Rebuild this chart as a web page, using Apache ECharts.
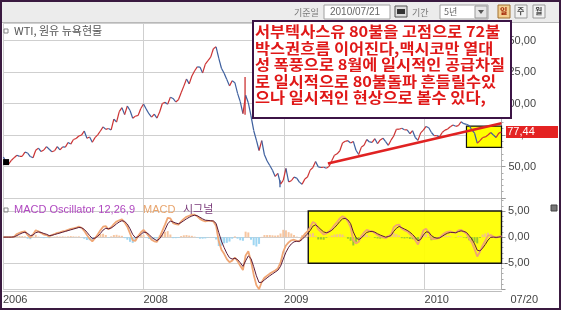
<!DOCTYPE html>
<html><head><meta charset="utf-8">
<script src="https://cdn.jsdelivr.net/npm/echarts@6/dist/echarts.min.js"></script>
<style>html,body{margin:0;padding:0;background:#fff}#c{width:565px;height:313px}</style>
</head><body><div id="c"></div>
<script>
// ---------- data (weekly, Tuesdays from 2007-01-02 to 2010-07-20) ----------
const firstWeek = '2007-01-02';
const closes = [
 57.5, 53.5, 52.0, 55.0, 57.0, 58.9, 58.0, 58.1, 61.4, 60.7,
 57.9, 57.0, 62.9, 64.6, 61.9, 63.1, 65.8, 63.7, 61.7, 62.5,
 65.8, 63.2, 65.6, 65.4, 69.1, 67.8, 71.4, 72.2, 74.2, 74.9,
 78.2, 72.4, 73.4, 69.3, 72.9, 75.1, 78.2, 81.5, 79.5, 80.2,
 79.0, 87.6, 85.3, 93.5, 96.7, 91.2, 98.0, 94.4, 88.3, 90.0,
 90.5, 96.0, 99.6, 95.7, 91.9, 89.2, 91.6, 88.4, 93.3, 100.0,
 100.9, 99.5, 105.0, 104.0, 101.2, 103.0, 108.5, 113.8, 119.4, 115.6,
 121.8, 125.8, 129.1, 128.9, 124.3, 131.3, 134.0, 136.8, 143.5, 145.0,
 136.0, 128.0, 124.0, 119.0, 114.0, 118.0, 116.5, 108.0, 101.5, 92.0,
 106.5, 100.6, 90.1, 78.6, 70.9, 62.7, 70.5, 59.3, 54.4, 50.8,
 47.0, 42.1, 44.5, 36.0, 39.0, 48.6, 37.8, 38.7, 41.6, 40.8,
 37.6, 35.9, 40.0, 41.6, 47.1, 49.2, 53.9, 49.7, 49.2, 49.4,
 48.6, 50.1, 54.5, 58.9, 60.1, 62.5, 68.6, 70.0, 70.5, 68.7,
 69.9, 62.9, 59.5, 65.4, 66.9, 71.4, 69.5, 69.2, 72.1, 68.1,
 71.1, 72.5, 69.7, 66.8, 70.9, 74.2, 79.6, 79.6, 80.4, 79.1,
 79.1, 76.0, 78.4, 73.0, 70.7, 76.7, 78.9, 81.8, 80.8, 77.0,
 74.5, 74.5, 73.5, 77.0, 78.9, 79.7, 81.5, 82.9, 81.9, 82.4,
 85.5, 84.0, 83.5, 82.5, 79.0, 76.4, 68.5, 70.5, 73.0, 73.5,
 75.0, 77.0, 75.0, 73.0, 76.5, 77.44
];
// weeks with a long intraweek wick: [week index, low, high]
const wicks = [[90, 91, 121], [103, 33.5, 39]];
const macd = [
 0, 0, 0, 0, 0.1, 0.6, 0.8, 1.0, 1.1, 0.4,
 -0.1, 0.5, 1.3, 1.1, 0.8, 0.5, 0.4, 0.1, 0.4, 0.6,
 0.8, 0.9, 1.1, 1.2, 1.4, 1.6, 1.7, 1.8, 2.0, 1.8,
 1.2, 0.4, -0.3, -0.8, -0.2, 0.5, 1.3, 2.0, 2.1, 1.5,
 1.9, 2.5, 3.0, 3.2, 3.4, 2.8, 2.0, 0.7, -0.6, -0.7,
 0.2, 0.9, 1.4, 0.8, 0.2, -0.5, -0.8, -0.9, 0.0, 1.2,
 2.4, 3.7, 3.6, 2.7, 2.5, 2.4, 3.0, 3.5, 3.9, 4.1,
 4.3, 4.3, 4.0, 3.5, 3.2, 3.0, 3.1, 3.1, 3.0, 2.2,
 -0.8, -2.4, -3.2, -4.2, -4.8, -4.5, -3.9, -4.6, -5.5, -6.3,
 -3.5, -2.7, -4.6, -7.2, -9.2, -10.0, -8.6, -7.8, -7.4, -7.0,
 -6.7, -6.4, -6.0, -4.9, -2.8, -1.6, -1.0, -0.6, -0.5, -0.7,
 -0.8, -0.1, 0.6, 1.1, 1.9, 2.9, 2.6, 1.5, 1.0, 0.5,
 0.7, 1.1, 1.6, 2.3, 2.9, 3.6, 4.0, 3.7, 3.0, 1.9,
 -0.6, -1.2, -0.9, 0.2, 0.9, 1.4, 1.2, 1.1, 0.8, 0.4,
 0.1, 0.0, -0.2, 0.2, 0.5, 1.9, 2.3, 2.4, 1.6, 1.3,
 1.1, 0.6, 0.1, -0.6, -1.4, -0.2, 1.3, 1.6, 0.9, -0.3,
 -0.4, -0.3, -0.1, 0.4, 0.8, 1.0, 1.1, 0.9, 0.8, 1.3,
 1.4, 1.0, 0.7, -0.3, -1.0, -2.3, -3.7, -2.8, -1.6, -0.7,
 0.3, 0.4, 0.1, -0.1, 0.1, 0.2
];
const signal = [
 0, 0, 0, 0, 0.05, 0.3, 0.55, 0.8, 0.95, 0.7,
 0.3, 0.4, 0.85, 1.0, 0.9, 0.7, 0.55, 0.3, 0.35, 0.5,
 0.65, 0.8, 0.95, 1.1, 1.25, 1.4, 1.55, 1.7, 1.85, 1.8,
 1.5, 0.95, 0.3, -0.25, -0.2, 0.15, 0.7, 1.35, 1.7, 1.6,
 1.75, 2.1, 2.55, 2.9, 3.15, 3.0, 2.5, 1.6, 0.5, -0.1,
 0.05, 0.5, 0.95, 0.9, 0.55, 0.0, -0.4, -0.65, -0.3, 0.45,
 1.4, 2.55, 3.1, 2.9, 2.7, 2.55, 2.8, 3.15, 3.5, 3.8,
 4.05, 4.2, 4.1, 3.8, 3.5, 3.25, 3.2, 3.15, 3.1, 2.65,
 0.9, -0.75, -2.0, -3.1, -3.95, -4.2, -4.05, -4.3, -4.9, -5.6,
 -4.55, -3.6, -4.1, -5.65, -7.4, -8.7, -8.65, -8.2, -7.8, -7.4,
 -7.05, -6.7, -6.35, -5.6, -4.2, -2.9, -1.95, -1.3, -0.9, -0.8,
 -0.8, -0.45, 0.1, 0.6, 1.25, 2.1, 2.35, 1.95, 1.45, 1.0,
 0.85, 1.0, 1.3, 1.8, 2.35, 3.0, 3.5, 3.6, 3.3, 2.6,
 1.0, -0.1, -0.5, -0.15, 0.4, 0.9, 1.05, 1.1, 0.95, 0.65,
 0.4, 0.2, 0.0, 0.1, 0.3, 1.1, 1.7, 2.05, 1.8, 1.55,
 1.3, 0.95, 0.5, -0.05, -0.7, -0.45, 0.4, 1.0, 0.95, 0.3,
 -0.05, -0.2, -0.15, 0.15, 0.5, 0.75, 0.9, 0.9, 0.85, 1.05,
 1.2, 1.1, 0.9, 0.3, -0.35, -1.3, -2.5, -2.65, -2.1, -1.4,
 -0.55, -0.05, 0.0, -0.05, 0.0, 0.1
];
const xTickLabels = [['2007-01-01', '2006'], ['2008-01-01', '2008'], ['2009-01-01', '2009'], ['2010-01-01', '2010'], ['2010-07-20', '07/20']];
const lastDate = '2010-07-20';
const lastPriceLabel = '77,44';
const trendLine = [['2009-04-25', 52.4], ['2010-07-20', 84.3]];
const priceBox = [['2010-04-20', 82.0], ['2010-07-20', 65.2]];
const macdBox = [['2009-03-05', 5], ['2010-07-20', -5]];
const noteLines = [
 '서부텍사스유 80불을 고점으로 72불',
 '박스권흐름 이어진다,맥시코만 열대',
 '성 폭풍으로 8월에 일시적인 공급차질',
 '로 일시적으로 80불돌파 흔들릴수있',
 '으나 일시적인 현상으로 볼수 있다,'
];

// ---------- helpers ----------
const DAY = 86400000;
function yearFrac(ms) {
  const d = new Date(ms), y = d.getUTCFullYear();
  const a = Date.UTC(y, 0, 1), b = Date.UTC(y + 1, 0, 1);
  return y + (ms - a) / (b - a);
}
function dateYear(s) { return yearFrac(Date.parse(s + 'T00:00:00Z')); }
const t0 = Date.parse(firstWeek + 'T00:00:00Z');
const weekT = closes.map((_, i) => yearFrac(t0 + i * 7 * DAY));
const xMin = Math.floor(weekT[0]);
const xMax = dateYear(lastDate);
const lastPrice = closes[closes.length - 1];
const boxStart = dateYear(macdBox[0][0]);
const wickMap = {}; wicks.forEach(w => wickMap[w[0]] = w);

const UP = '#cc3333', DOWN = '#3d5f9e';
const LATIN = 'Liberation Sans, Arial, sans-serif';
const LBL = { fontFamily: LATIN, fontSize: 11, color: '#444' };
const KR = 'Noto Sans CJK KR, sans-serif';

function xLabel(v) {
  let best = null, bd = 1e9;
  xTickLabels.forEach(p => { const d = Math.abs(dateYear(p[0]) - v); if (d < bd) { bd = d; best = p; } });
  if (!best || bd > 0.02) return '';
  return best[0] === lastDate ? '{e|' + best[1] + '}' : best[1];
}

const chart = echarts.init(document.getElementById('c'));
const option = {
  animation: false,
  backgroundColor: '#fff',
  grid: [
    { left: 3, right: 63.5, top: 23, height: 175 },
    { left: 3, right: 63.5, top: 198, height: 91.3 }
  ],
  xAxis: [
    { type: 'value', gridIndex: 0, min: xMin, max: xMax, interval: 1,
      axisLine: { show: false }, axisTick: { show: false }, axisLabel: { show: false },
      splitLine: { show: true, lineStyle: { color: '#cfcfcf', width: 1 } } },
    { type: 'value', gridIndex: 1, min: xMin, max: xMax, interval: 1,
      axisLine: { show: true, onZero: false, lineStyle: { color: '#bdbdbd' } }, offset: 2,
      axisTick: { show: false },
      axisLabel: Object.assign({}, LBL, { show: true, margin: 3, align: 'left', showMaxLabel: true, showMinLabel: true,
        formatter: xLabel, rich: { e: Object.assign({}, LBL, { padding: [0, 0, 0, 9] }) } }),
      splitLine: { show: true, lineStyle: { color: '#cfcfcf', width: 1 } } }
  ],
  yAxis: [
    { type: 'value', gridIndex: 0, position: 'right', min: 25, max: 163.9, interval: 25,
      axisLine: { show: true, lineStyle: { color: '#b0b0b0' } },
      axisTick: { show: true, length: 4, lineStyle: { color: '#999' } },
      minorTick: { show: true, splitNumber: 5, length: 2, lineStyle: { color: '#aaa' } },
      axisLabel: Object.assign({}, LBL, { margin: 7, showMinLabel: false, showMaxLabel: false,
        formatter: v => ((v % 100).toFixed(2).replace('.', ',')).padStart(5, '0') }),
      splitLine: { show: true, lineStyle: { color: '#cfcfcf' } } },
    { type: 'value', gridIndex: 1, position: 'right', min: -10, max: 7.5, interval: 5,
      axisLine: { show: true, lineStyle: { color: '#b0b0b0' } },
      axisTick: { show: true, length: 4, lineStyle: { color: '#999' } },
      minorTick: { show: true, splitNumber: 5, length: 2, lineStyle: { color: '#aaa' } },
      axisLabel: Object.assign({}, LBL, { margin: 28, align: 'right', showMinLabel: false, showMaxLabel: false,
        formatter: v => v.toFixed(2).replace('.', ',') }),
      splitLine: { show: true, lineStyle: { color: '#cfcfcf' } } }
  ],
  series: [
    // host for markers on the price panel
    { type: 'line', xAxisIndex: 0, yAxisIndex: 0, z: 1, clip: false, silent: true, showSymbol: false,
      lineStyle: { opacity: 0 }, data: closes.map((c, i) => [weekT[i], c]),
      markArea: { silent: true, itemStyle: { color: '#ffff00', borderColor: '#111', borderWidth: 1.2 },
        data: [[{ coord: [dateYear(priceBox[0][0]), priceBox[0][1]] }, { coord: [dateYear(priceBox[1][0]), priceBox[1][1]] }]] },
      markLine: { silent: true, symbol: ['none', 'none'], animation: false,
        data: [
          [{ coord: [dateYear(trendLine[0][0]), trendLine[0][1]], lineStyle: { color: '#e02222', width: 2.5, type: 'solid' }, label: { show: false } },
           { coord: [dateYear(trendLine[1][0]), trendLine[1][1]] }]
        ] },
      markPoint: { silent: true, label: { show: false },
        data: [
          { coord: [weekT[1], closes[1]], symbol: 'rect', symbolSize: 6, itemStyle: { color: '#000' } },
          { coord: [xMax, lastPrice], symbol: 'rect', symbolSize: [52, 12], symbolOffset: [30.5, 0],
            itemStyle: { color: '#e42222' },
            label: { show: true, position: 'inside', offset: [-11, 0], formatter: lastPriceLabel,
              color: '#fff', fontFamily: LATIN, fontSize: 11 } }
        ] }
    },
    // price path, red when rising, blue when falling
    { type: 'custom', xAxisIndex: 0, yAxisIndex: 0, z: 3, silent: true,
      data: closes.map((c, i) => [weekT[i], c]),
      encode: { x: 0, y: 1 },
      renderItem: function (params, api) {
        const i = params.dataIndex;
        if (i === 0) return null;
        const p0 = api.coord([weekT[i - 1], closes[i - 1]]);
        const p1 = api.coord([weekT[i], closes[i]]);
        const up = closes[i] >= closes[i - 1];
        const col = up ? UP : DOWN;
        const ch = [{ type: 'line', shape: { x1: p0[0], y1: p0[1], x2: p1[0], y2: p1[1] }, style: { stroke: col, lineWidth: 1.2 } }];
        const w = wickMap[i];
        if (w) {
          const a = api.coord([weekT[i] - 0.004, w[1]]), b = api.coord([weekT[i] - 0.004, w[2]]);
          ch.push({ type: 'line', shape: { x1: a[0], y1: a[1], x2: b[0], y2: b[1] }, style: { stroke: col, lineWidth: 1.3 } });
        }
        return { type: 'group', children: ch };
      } },
    // MACD oscillator histogram
    { type: 'bar', xAxisIndex: 1, yAxisIndex: 1, z: 2, barWidth: 2, silent: true,
      data: macd.map((m, i) => [weekT[i], +(m - signal[i]).toFixed(2)]),
      itemStyle: { color: p => {
        const v = p.value[1], inBox = p.value[0] >= boxStart;
        if (v >= 0) return inBox ? '#f2c48c' : '#f7c6a0';
        return inBox ? '#96c832' : '#9fd6f2';
      } } },
    // MACD line
    { type: 'line', xAxisIndex: 1, yAxisIndex: 1, z: 3, showSymbol: false, silent: true,
      data: macd.map((m, i) => [weekT[i], m]),
      lineStyle: { color: '#f0a674', width: 1.8 },
      markArea: { silent: true, itemStyle: { color: 'rgba(255,255,0,0.94)', borderColor: '#111', borderWidth: 1.4 },
        data: [[{ coord: [dateYear(macdBox[0][0]), macdBox[0][1]] }, { coord: [dateYear(macdBox[1][0]), macdBox[1][1]] }]] } },
    // signal line
    { type: 'line', xAxisIndex: 1, yAxisIndex: 1, z: 4, showSymbol: false, silent: true,
      data: signal.map((s, i) => [weekT[i], s]),
      lineStyle: { color: '#5c1c3a', width: 1 } }
  ],
  graphic: [
    // toolbar
    { type: 'rect', z: 10, shape: { x: 2, y: 2, width: 557, height: 20 }, style: { fill: '#ececec' } },
    { type: 'line', z: 11, shape: { x1: 2, y1: 22.5, x2: 559, y2: 22.5 }, style: { stroke: '#b8b8b8', lineWidth: 1 } },
    { type: 'text', z: 12, x: 294, y: 8, style: { text: '기준일', font: '9px ' + KR, fill: '#777' } },
    { type: 'rect', z: 12, shape: { x: 324, y: 5, width: 66, height: 14 }, style: { fill: '#fff', stroke: '#a0a0a0', lineWidth: 1 } },
    { type: 'text', z: 13, x: 330, y: 7, style: { text: '2010/07/21', font: '10px ' + LATIN, fill: '#666' } },
    { type: 'rect', z: 12, shape: { x: 395, y: 6, width: 12, height: 11 }, style: { fill: '#dcdcdc', stroke: '#555', lineWidth: 1 } },
    { type: 'rect', z: 13, shape: { x: 397, y: 9, width: 8, height: 5 }, style: { fill: '#333' } },
    { type: 'text', z: 12, x: 412, y: 8, style: { text: '기간', font: '9px ' + KR, fill: '#777' } },
    { type: 'rect', z: 12, shape: { x: 440, y: 5, width: 48, height: 14 }, style: { fill: '#fff', stroke: '#a0a0a0', lineWidth: 1 } },
    { type: 'text', z: 13, x: 444, y: 7, style: { text: '5년', font: '9px ' + KR, fill: '#666' } },
    { type: 'rect', z: 13, shape: { x: 475, y: 6, width: 12, height: 12 }, style: { fill: '#e6e6e6', stroke: '#999', lineWidth: 1 } },
    { type: 'polygon', z: 14, shape: { points: [[478, 10], [484, 10], [481, 14]] }, style: { fill: '#555' } },
    { type: 'rect', z: 12, shape: { x: 498, y: 5, width: 12, height: 13 }, style: { fill: '#f3cf90', stroke: '#a07030', lineWidth: 1 } },
    { type: 'text', z: 13, x: 500, y: 7, style: { text: '일', font: 'bold 8px ' + KR, fill: '#a02000' } },
    { type: 'rect', z: 12, shape: { x: 515, y: 5, width: 12, height: 13 }, style: { fill: '#f2f2f2', stroke: '#999', lineWidth: 1 } },
    { type: 'text', z: 13, x: 517, y: 7, style: { text: '주', font: 'bold 8px ' + KR, fill: '#444' } },
    { type: 'rect', z: 12, shape: { x: 533, y: 5, width: 12, height: 13 }, style: { fill: '#f2f2f2', stroke: '#999', lineWidth: 1 } },
    { type: 'text', z: 13, x: 535, y: 7, style: { text: '월', font: 'bold 8px ' + KR, fill: '#444' } },
    // panel titles
    { type: 'rect', z: 12, shape: { x: 4, y: 29, width: 4, height: 4 }, style: { fill: 'none', stroke: '#888', lineWidth: 1 } },
    { type: 'text', z: 12, x: 14, y: 25, style: { text: 'WTI, 원유 뉴욕현물', font: '11px ' + KR, fill: '#555' } },
    { type: 'rect', z: 12, shape: { x: 4, y: 208, width: 4, height: 4 }, style: { fill: 'none', stroke: '#888', lineWidth: 1 } },
    { type: 'text', z: 12, x: 14, y: 204, style: { text: 'MACD Oscillator 12,26,9', font: '11px ' + LATIN, fill: '#b048c0' } },
    { type: 'text', z: 12, x: 143, y: 204, style: { text: 'MACD', font: '11px ' + LATIN, fill: '#e8a46c' } },
    { type: 'text', z: 12, x: 183, y: 203, style: { text: '시그널', font: '11px ' + KR, fill: '#7a3a7a' } },
    // small icon
    { type: 'rect', z: 12, shape: { x: 551, y: 205, width: 6, height: 6 }, style: { fill: '#777', stroke: '#444', lineWidth: 1 } },
    // note box
    { type: 'rect', z: 50, shape: { x: 253, y: 21, width: 258, height: 97 }, style: { fill: '#fff', stroke: '#3c1446', lineWidth: 2 } }
  ].concat(noteLines.map((t, k) => ({ type: 'text', z: 51, x: 255, y: 31.7 + k * 16.4, scaleX: 1.09,
      style: { text: t, font: 'bold 15px ' + KR, fill: '#e01818', verticalAlign: 'middle' } })))
   .concat([
    // outer frame
    { type: 'rect', z: 100, shape: { x: 1, y: 1, width: 559, height: 308 }, style: { fill: 'none', stroke: '#3a1a40', lineWidth: 2 } }
  ])
};
chart.setOption(option);
</script>
</body></html>
